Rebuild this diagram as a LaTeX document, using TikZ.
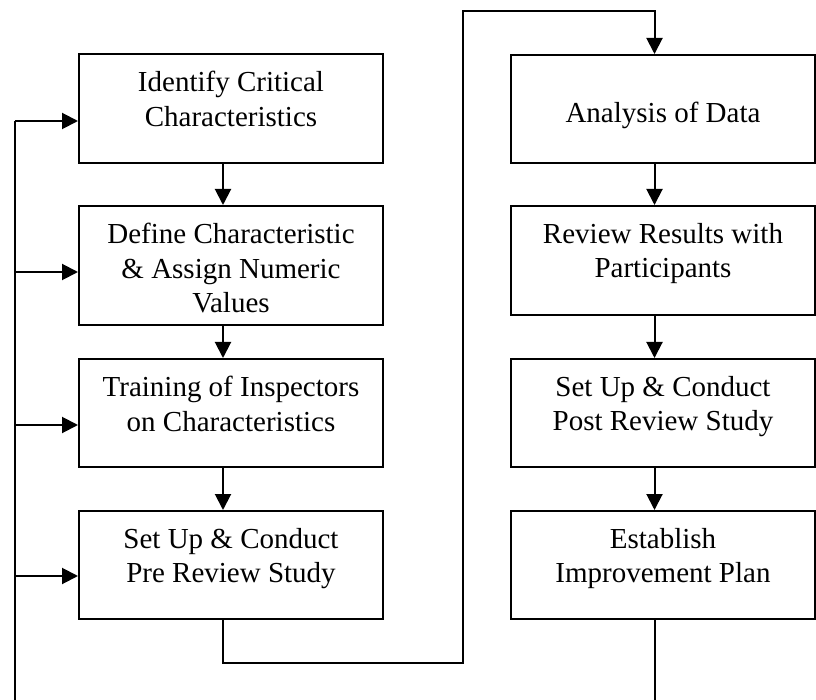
\documentclass[tikz,border=0pt]{standalone}
\usepackage{fontspec}
\setmainfont{Liberation Serif}
\usetikzlibrary{arrows.meta}
\begin{document}
\begin{tikzpicture}[x=1pt,y=-1pt,
  box/.style={draw,line width=2pt,minimum width=304pt,minimum height=108pt,inner sep=0pt},
  txt/.style={align=center,anchor=north,inner sep=0pt,font=\fontsize{29}{34.5}\selectfont},
  con/.style={line width=2pt},
  arr/.style={con,-{Triangle[length=16pt,width=16pt]}}]
\useasboundingbox (0,0) rectangle (816,700);
% boxes
\node[box,minimum height=109pt] (L1) at (231,108.5) {};
\node[box,minimum height=119pt] (L2) at (231,265.5) {};
\node[box] (L3) at (231,413) {};
\node[box] (L4) at (231,565) {};
\node[box] (R1) at (663,109) {};
\node[box,minimum height=109pt] (R2) at (663,260.5) {};
\node[box] (R3) at (663,413) {};
\node[box] (R4) at (663,565) {};
% texts
\node[txt] (tL1) at ([yshift=-18pt]L1.north) {\rule{0pt}{20pt}Identify Critical\\Characteristics};
\node[txt] (tL2) at ([yshift=-18pt]L2.north) {\rule{0pt}{20pt}Define Characteristic\\\& Assign Numeric\\Values};
\node[txt] (tL3) at ([yshift=-18pt]L3.north) {\rule{0pt}{20pt}Training of Inspectors\\on Characteristics};
\node[txt] (tL4) at ([yshift=-18pt]L4.north) {\rule{0pt}{20pt}Set Up \& Conduct\\Pre Review Study};
\node[txt] (tR1) at ([yshift=-48pt]R1.north) {\rule{0pt}{20pt}Analysis of Data};
\node[txt] (tR2) at ([yshift=-18pt]R2.north) {\rule{0pt}{20pt}Review Results with\\Participants};
\node[txt] (tR3) at ([yshift=-18pt]R3.north) {\rule{0pt}{20pt}Set Up \& Conduct\\Post Review Study};
\node[txt] (tR4) at ([yshift=-18pt]R4.north) {\rule{0pt}{20pt}Establish\\Improvement Plan};
% vertical arrows
\draw[arr] ([xshift=-8pt]L1.south) -- ([xshift=-8pt]L2.north);
\draw[arr] ([xshift=-8pt]L2.south) -- ([xshift=-8pt]L3.north);
\draw[arr] ([xshift=-8pt]L3.south) -- ([xshift=-8pt]L4.north);
\draw[arr] ([xshift=-8.5pt]R1.south) -- ([xshift=-8.5pt]R2.north);
\draw[arr] ([xshift=-8.5pt]R2.south) -- ([xshift=-8.5pt]R3.north);
\draw[arr] ([xshift=-8.5pt]R3.south) -- ([xshift=-8.5pt]R4.north);
% connector from left column to right column
\coordinate (c1) at (463,663);
\coordinate (c2) at (463,11);
\draw[arr] ([xshift=-8pt]L4.south) |- (c1) -- (c2) -| ([xshift=-8.5pt]R1.north);
% feedback line on the left
\coordinate (fb) at (15,700);
\coordinate (f1) at (15,121);
\coordinate (f2) at (15,272);
\coordinate (f3) at (15,425);
\coordinate (f4) at (15,576);
\draw[con] (fb) -- (f1);
\draw[arr] (f1) -- (f1 -| L1.west);
\draw[arr] (f2) -- (f2 -| L2.west);
\draw[arr] (f3) -- (f3 -| L3.west);
\draw[arr] (f4) -- (f4 -| L4.west);
% end line on the right
\coordinate (rb) at (654.5,700);
\draw[con] ([xshift=-8.5pt]R4.south) -- (rb);
\end{tikzpicture}
\end{document}
